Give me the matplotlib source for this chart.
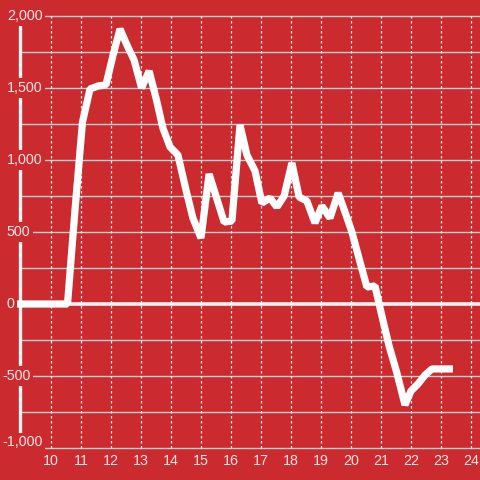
import matplotlib
matplotlib.use("Agg")
import matplotlib.pyplot as plt

# series (x in hours, y in units)
hours = [8.87, 10.55, 10.8, 11.05, 11.3, 11.57, 11.83, 12.07, 12.3, 12.53,
         12.77, 13.02, 13.27, 13.5, 13.73, 13.97, 14.23, 14.5, 14.73, 15.0,
         15.27, 15.5, 15.77, 16.03, 16.3, 16.53, 16.8, 17.03, 17.3, 17.53,
         17.77, 18.03, 18.27, 18.53, 18.8, 19.03, 19.3, 19.57, 19.8, 20.03,
         20.3, 20.53, 20.8, 21.03, 21.27, 21.53, 21.8, 22.0, 22.23, 22.47,
         22.7, 22.97, 23.4]
values = [0, 0, 653, 1264, 1493, 1514, 1521, 1729, 1910, 1799,
          1694, 1500, 1618, 1431, 1222, 1090, 1035, 792, 597, 458,
          903, 750, 569, 576, 1243, 1035, 924, 701, 736, 674,
          750, 979, 743, 715, 563, 681, 597, 771, 639, 500,
          292, 118, 125, -83, -292, -479, -701, -604, -556, -493,
          -451, -451, -451]

x_ticks = list(range(10, 25))
y_grid = [-1000, -750, -500, -250, 250, 500, 750, 1000, 1250, 1500, 1750, 2000]
y_labels = {2000: "2,000", 1500: "1,500", 1000: "1,000", 500: "500",
            0: "0", -500: "-500", -1000: "-1,000"}

RED = "#cb2a2f"
TXT = "#f6e6e6"
plt.rcParams["font.family"] = ["Liberation Sans", "DejaVu Sans"]

fig = plt.figure(figsize=(4.8, 4.8), dpi=100, facecolor=RED)
ax = fig.add_axes([0, 0, 1, 1])
ax.set_facecolor(RED)
ax.set_xlim(8.3, 24.3)
ax.set_ylim(-1222.2, 2111.1)
ax.axis("off")

x_axis = 8.967  # vertical axis line position
x_right = 24.3

# grid
ax.hlines(y_grid, x_axis, x_right, color="#cfcfcf", lw=1.0, zorder=1)
ax.vlines(x_ticks, -1000, 2000, color="#ececec", lw=0.9,
          linestyles=(0, (2, 2)), zorder=1)
ax.vlines(x_axis, -1000, 2000, color="#f4f4f4", lw=2.4, zorder=2)
ax.hlines(0, 8.87, x_right, color="#f4f4f4", lw=2.6, zorder=2)

# y labels with red box covering grid and axis line
for v, s in y_labels.items():
    xpos = 8.53 if v >= 0 else 8.37
    ypos = -960 if v == -1000 else v
    ax.text(xpos, ypos, s, ha="left", va="center", fontsize=10.3, color=TXT,
            zorder=3, bbox=dict(boxstyle="square,pad=0.18", fc=RED, ec="none"))

for t in x_ticks:
    ax.text(t, -1090, str(t), ha="center", va="center", fontsize=10.3,
            color=TXT, zorder=3)

ax.plot(hours, values, color="white", lw=5.2, solid_joinstyle="bevel",
        solid_capstyle="butt", zorder=4)

fig.savefig("out.png", dpi=100, facecolor=RED)
